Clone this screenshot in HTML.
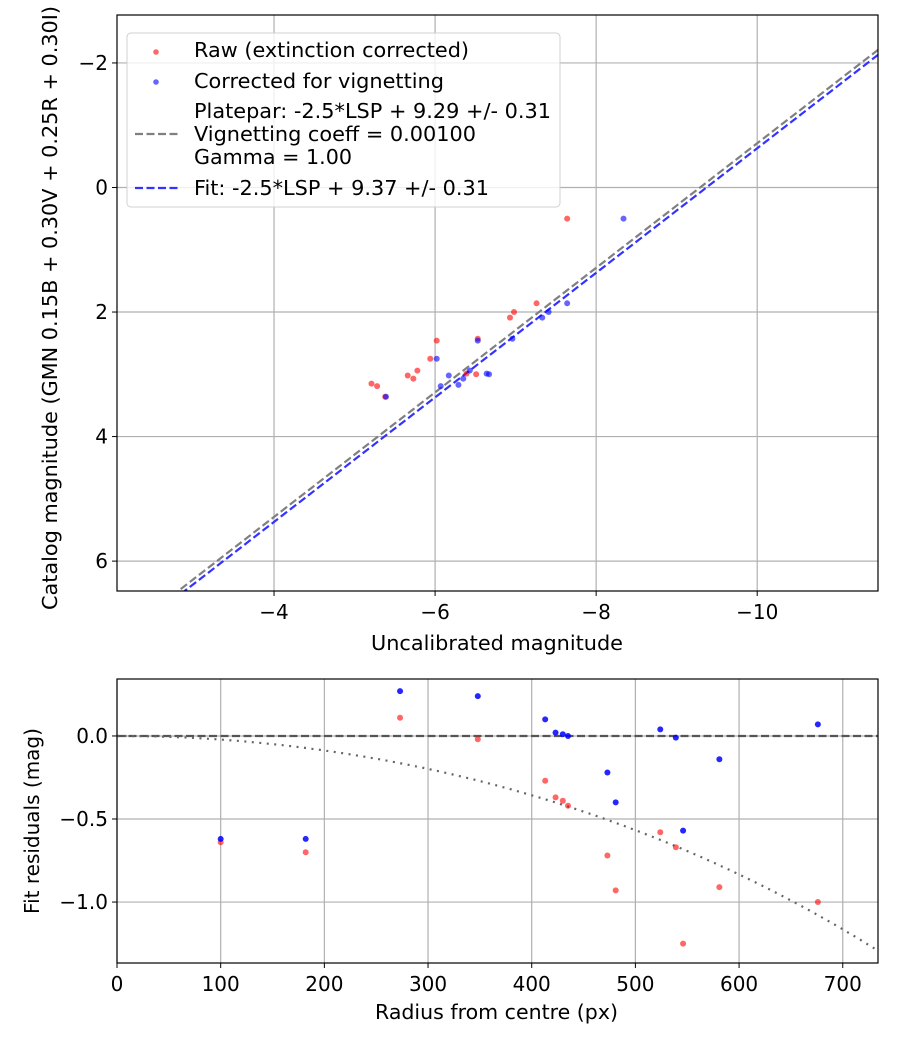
<!DOCTYPE html>
<html><head><meta charset="utf-8"><style>
html,body{margin:0;padding:0;background:#fff;}
svg{display:block;font-family:"DejaVu Sans","Liberation Sans",sans-serif;}
</style></head><body>
<svg id="fig" width="900" height="1050" viewBox="0 0 900 1050" xmlns="http://www.w3.org/2000/svg">
<rect width="900" height="1050" fill="#fff"/>
<g id="top"></g>
<g id="bot"></g>
</svg>
<script>
// Top chart data
const rawX = [-7.64,-7.26,-6.98,-6.93,-6.53,-6.02,-5.94,-5.78,-5.66,-5.73,-6.51,-6.39,-5.21,-5.28,-5.38];
const rawY = [0.50,1.86,2.00,2.09,2.43,2.46,2.75,2.94,3.02,3.07,3.00,2.99,3.15,3.19,3.36];
const corX = [-8.34,-7.64,-7.41,-7.33,-6.96,-6.53,-6.02,-6.17,-6.29,-6.35,-6.43,-6.64,-6.67,-6.07,-5.39];
const corY = [0.50,1.86,2.00,2.09,2.43,2.46,2.75,3.02,3.17,3.07,2.94,2.99,3.00,3.19,3.36];
const platepar = 9.29, fitZp = 9.37;
const topXTicks = [-4,-6,-8,-10];
const topYTicks = [-2,0,2,4,6];
// Bottom chart data
const radius = [100,182,273,348,413,423,430,435,473,481,524,539,546,581,676];
const resRaw = [-0.64,-0.70,0.11,-0.02,-0.27,-0.37,-0.39,-0.42,-0.72,-0.93,-0.58,-0.67,-1.25,-0.91,-1.00];
const resCor = [-0.62,-0.62,0.27,0.24,0.10,0.02,0.01,0.00,-0.22,-0.40,0.04,-0.01,-0.57,-0.14,0.07];
const vignCoeff = 0.001;
const botXTicks = [0,100,200,300,400,500,600,700];
const botYTicks = [0.0,-0.5,-1.0];
const botYLabels = ["0.0","−0.5","−1.0"];

const NS="http://www.w3.org/2000/svg";
function mk(parent,tag,attrs,text){const e=document.createElementNS(NS,tag);for(const k in attrs)e.setAttribute(k,attrs[k]);if(text!==undefined)e.textContent=text;parent.appendChild(e);return e;}
const FS=20;

// ---- TOP ----
const T=document.getElementById('top');
const tL=117,tR=878,tT=15,tB=591;
const txMin=-2.05,txMax=-11.5,tyMin=-2.77,tyMax=6.48;
const tx=v=>tL+(v-txMin)/(txMax-txMin)*(tR-tL);
const ty=v=>tT+(v-tyMin)/(tyMax-tyMin)*(tB-tT);
const cpT=mk(T,'clipPath',{id:'cpT'});mk(cpT,'rect',{x:tL,y:tT,width:tR-tL,height:tB-tT});
topXTicks.forEach(v=>{
  const g=mk(T,'line',{x1:tx(v),x2:tx(v),y1:tT,y2:tB,stroke:'#b0b0b0','stroke-width':1.2});
  
  mk(T,'line',{x1:tx(v),x2:tx(v),y1:tB,y2:tB+5,stroke:'#000'});
  const t=mk(T,'text',{x:tx(v),y:tB+28,'font-size':FS,'text-anchor':'middle'},'−'+Math.abs(v));
  
});
topYTicks.forEach(v=>{
  const g=mk(T,'line',{x1:tL,x2:tR,y1:ty(v),y2:ty(v),stroke:'#b0b0b0','stroke-width':1.2});
  
  mk(T,'line',{x1:tL-5,x2:tL,y1:ty(v),y2:ty(v),stroke:'#000'});
  const t=mk(T,'text',{x:tL-9,y:ty(v)+7,'font-size':FS,'text-anchor':'end'},v<0?'−'+Math.abs(v):String(v));
  
});
const lg=mk(T,'g',{'clip-path':'url(#cpT)'});
const l1=mk(lg,'line',{x1:tx(txMin),y1:ty(txMin+platepar),x2:tx(txMax),y2:ty(txMax+platepar),stroke:'#808080','stroke-width':2.2,'stroke-dasharray':'8,3.5'});

const l2=mk(lg,'line',{x1:tx(txMin),y1:ty(txMin+fitZp),x2:tx(txMax),y2:ty(txMax+fitZp),stroke:'#3333ff','stroke-width':2.2,'stroke-dasharray':'8,3.5'});

rawX.forEach((v,i)=>{const c=mk(lg,'circle',{cx:tx(v),cy:ty(rawY[i]),r:3,fill:'rgba(255,0,0,0.6)'});
  });
corX.forEach((v,i)=>{const c=mk(lg,'circle',{cx:tx(v),cy:ty(corY[i]),r:3,fill:'rgba(0,0,255,0.6)'});
  });
mk(T,'rect',{x:tL,y:tT,width:tR-tL,height:tB-tT,fill:'none',stroke:'#000','stroke-width':1.2});
const xt=mk(T,'text',{x:371,y:650,'font-size':FS,textLength:252,lengthAdjust:'spacingAndGlyphs'},'Uncalibrated magnitude');

const yt=mk(T,'text',{x:0,y:0,'font-size':FS,'text-anchor':'middle',textLength:604,lengthAdjust:'spacingAndGlyphs',transform:`translate(57,308) rotate(-90)`},'Catalog magnitude (GMN 0.15B + 0.30V + 0.25R + 0.30I)');

// legend
const L=mk(T,'g',{});

mk(L,'rect',{x:127,y:33,width:433,height:174,rx:4,fill:'rgba(255,255,255,0.8)',stroke:'#d0d0d0'});
mk(L,'circle',{cx:156,cy:52,r:2.8,fill:'rgba(255,0,0,0.6)'});
mk(L,'circle',{cx:156,cy:82,r:2.8,fill:'rgba(0,0,255,0.6)'});
mk(L,'line',{x1:135,x2:178,y1:134,y2:134,stroke:'#808080','stroke-width':2.2,'stroke-dasharray':'8,3.5'});
mk(L,'line',{x1:135,x2:178,y1:188,y2:188,stroke:'#3333ff','stroke-width':2.2,'stroke-dasharray':'8,3.5'});
[['Raw (extinction corrected)',57,275],['Corrected for vignetting',88,250],['Platepar: -2.5*LSP + 9.29 +/- 0.31',118,357],['Vignetting coeff = 0.00100',141,282],['Gamma = 1.00',164,158],['Fit: -2.5*LSP + 9.37 +/- 0.31',195,295]].forEach(([s,y,w])=>{
  const t=mk(L,'text',{x:194,y:y,'font-size':FS,textLength:w,lengthAdjust:'spacingAndGlyphs'},s);
  
});

// ---- BOTTOM ----
const B=document.getElementById('bot');
const bL=117,bR=878,bT=679,bB=963;
const bxMin=0,bxMax=734,byMin=-1.367,byMax=0.343;
const bx=v=>bL+(v-bxMin)/(bxMax-bxMin)*(bR-bL);
const by=v=>bB-(v-byMin)/(byMax-byMin)*(bB-bT);
const cpB=mk(B,'clipPath',{id:'cpB'});mk(cpB,'rect',{x:bL,y:bT,width:bR-bL,height:bB-bT});
botXTicks.forEach(v=>{
  const g=mk(B,'line',{x1:bx(v),x2:bx(v),y1:bT,y2:bB,stroke:'#b0b0b0','stroke-width':1.2});
  
  mk(B,'line',{x1:bx(v),x2:bx(v),y1:bB,y2:bB+5,stroke:'#000'});
  const t=mk(B,'text',{x:bx(v),y:bB+28,'font-size':FS,'text-anchor':'middle'},String(v));
  
});
botYTicks.forEach((v,i)=>{
  const g=mk(B,'line',{x1:bL,x2:bR,y1:by(v),y2:by(v),stroke:'#b0b0b0','stroke-width':1.2});
  
  mk(B,'line',{x1:bL-5,x2:bL,y1:by(v),y2:by(v),stroke:'#000'});
  const t=mk(B,'text',{x:bL-9,y:by(v)+7,'font-size':FS,'text-anchor':'end'},botYLabels[i]);
  
});
const bg=mk(B,'g',{'clip-path':'url(#cpB)'});
const z=mk(bg,'line',{x1:bL,x2:bR,y1:by(0),y2:by(0),stroke:'#555','stroke-width':2.2,'stroke-dasharray':'8,3.5'});

let d='';for(let r=0;r<=bxMax;r+=4){const v=2.5*Math.log10(Math.pow(Math.cos(vignCoeff*r),4));d+=(r?'L':'M')+bx(r).toFixed(1)+','+by(v).toFixed(1);}
const vc=mk(bg,'path',{d:d,fill:'none',stroke:'#666','stroke-width':2.2,'stroke-dasharray':'2,5.5'});

radius.forEach((v,i)=>{const c=mk(bg,'circle',{cx:bx(v),cy:by(resRaw[i]),r:3,fill:'rgba(255,0,0,0.6)'});
  });
radius.forEach((v,i)=>{const c=mk(bg,'circle',{cx:bx(v),cy:by(resCor[i]),r:3,fill:'rgba(0,0,255,0.85)'});
  });
mk(B,'rect',{x:bL,y:bT,width:bR-bL,height:bB-bT,fill:'none',stroke:'#000','stroke-width':1.2});
const bxt=mk(B,'text',{x:375,y:1019,'font-size':FS,textLength:243,lengthAdjust:'spacingAndGlyphs'},'Radius from centre (px)');

const byt=mk(B,'text',{x:0,y:0,'font-size':FS,'text-anchor':'middle',transform:`translate(39,821) rotate(-90)`},'Fit residuals (mag)');

</script>
</body></html>
